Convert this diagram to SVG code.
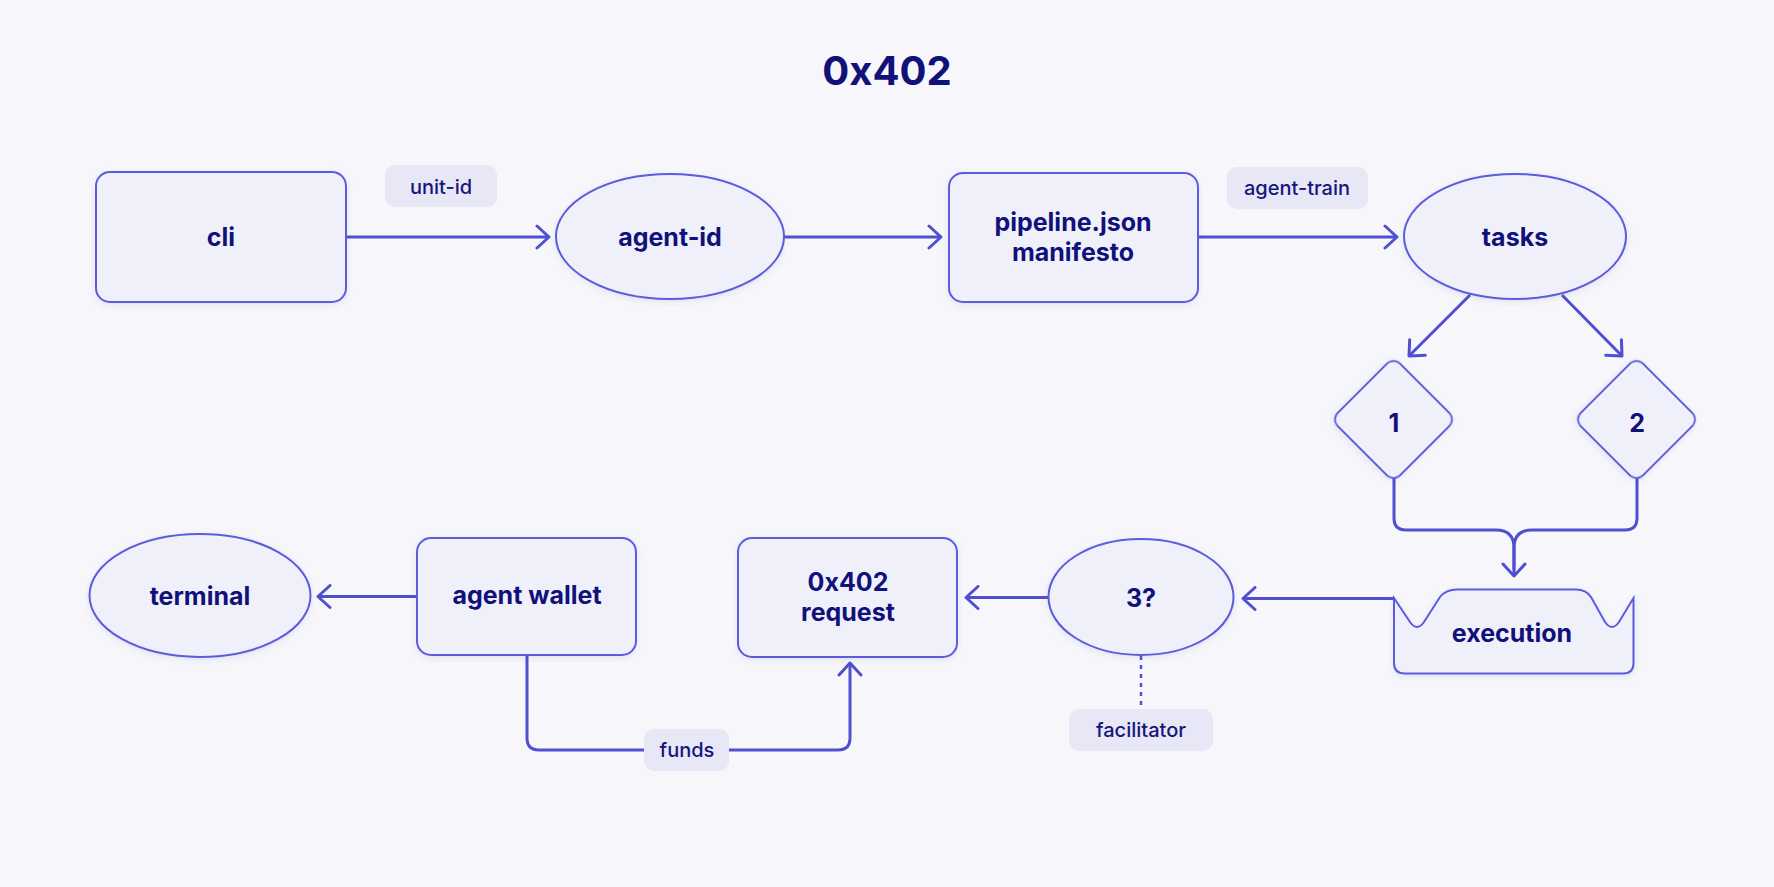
<svg xmlns="http://www.w3.org/2000/svg" width="1774" height="887" viewBox="0 0 1774 887">
  <style>
    .node { fill: #f0f0fb; stroke: #5b5bdc; stroke-width: 2; filter: url(#shadow); }
    .ntext { font-family: Inter, "Noto Sans", "Liberation Sans", sans-serif; font-weight: 700; font-size: 25px; fill: #11117a; text-anchor: middle; }
    .pill { fill: #e7e7f5; }
    .ltext { font-family: Inter, "Noto Sans", "Liberation Sans", sans-serif; font-weight: 500; font-size: 20px; fill: #16167c; text-anchor: middle; }
    .edge { fill: none; stroke: #4f4fd0; stroke-width: 3; }
    .arrow { marker-end: url(#chev); }
    .dotted { fill: none; stroke: #4f4fd0; stroke-width: 2.5; stroke-dasharray: 4 5; }
    .title { font-family: Inter, "Noto Sans", "Liberation Sans", sans-serif; font-weight: 700; font-size: 40px; fill: #11117a; text-anchor: middle; }
  </style>
  <defs>
    <filter id="shadow" x="-20%" y="-20%" width="140%" height="150%">
      <feDropShadow dx="0" dy="2" stdDeviation="3" flood-color="#5050b0" flood-opacity="0.12"/>
    </filter>
    <marker id="chev" viewBox="0 0 16 26" refX="14" refY="13" markerWidth="16" markerHeight="26" orient="auto" markerUnits="userSpaceOnUse">
      <path d="M2,2 L14,13 L2,24" fill="none" stroke="#4f4fd0" stroke-width="3" stroke-linecap="round" stroke-linejoin="round"/>
    </marker>
  </defs>

  <rect x="0" y="0" width="1774" height="887" fill="#f7f7fb"/>

  <text class="title" x="887" y="85">0x402</text>

  <g id="connectors">
    <path class="edge arrow" d="M346,237 H549"/>
    <path class="edge arrow" d="M784,237 H941"/>
    <path class="edge arrow" d="M1198,237 H1397"/>
    <path class="edge arrow" d="M1470,295 L1409,356"/>
    <path class="edge arrow" d="M1562,295 L1622,356"/>
    <path class="edge" d="M1637,478 V518 Q1637,530 1625,530 H1532 Q1514,530 1514,548 V570"/>
    <path class="edge arrow" d="M1394,478 V518 Q1394,530 1406,530 H1496 Q1514,530 1514,548 V576"/>
    <path class="edge arrow" d="M1394,598.5 H1243"/>
    <path class="edge arrow" d="M1048,597.5 H966"/>
    <path class="edge arrow" d="M417,596.5 H318"/>
    <path class="edge arrow" d="M527,655 V738 Q527,750 539,750 H838 Q850,750 850,738 V663"/>
    <path class="dotted" d="M1141,656 V708"/>
  </g>

  <g id="label-unit-id">
    <rect class="pill" x="385" y="165" width="112" height="42" rx="10"/>
    <text class="ltext" x="441" y="194">unit-id</text>
  </g>
  <g id="label-agent-train">
    <rect class="pill" x="1227" y="167" width="141" height="42" rx="10"/>
    <text class="ltext" x="1297" y="195">agent-train</text>
  </g>
  <g id="label-funds">
    <rect class="pill" x="644" y="729" width="85" height="42" rx="10"/>
    <text class="ltext" x="687" y="757">funds</text>
  </g>
  <g id="label-facilitator">
    <rect class="pill" x="1069" y="709" width="144" height="42" rx="10"/>
    <text class="ltext" x="1141" y="737">facilitator</text>
  </g>

  <g id="node-cli">
    <rect class="node" x="96" y="172" width="250" height="130" rx="14"/>
    <text class="ntext" x="221" y="246">cli</text>
  </g>
  <g id="node-agent-id">
    <ellipse class="node" cx="670" cy="236.5" rx="114" ry="62.5"/>
    <text class="ntext" x="670" y="246">agent-id</text>
  </g>
  <g id="node-pipeline">
    <rect class="node" x="949" y="173" width="249" height="129" rx="14"/>
    <text class="ntext" x="1073" y="231">pipeline.json</text>
    <text class="ntext" x="1073" y="261">manifesto</text>
  </g>
  <g id="node-tasks">
    <ellipse class="node" cx="1515" cy="236.5" rx="111" ry="62.5"/>
    <text class="ntext" x="1515" y="246">tasks</text>
  </g>
  <g id="node-1">
    <rect class="node" x="-44" y="-44" width="88" height="88" rx="9" transform="translate(1393.5,419.5) rotate(45)"/>
    <text class="ntext" x="1394" y="432">1</text>
  </g>
  <g id="node-2">
    <rect class="node" x="-44" y="-44" width="88" height="88" rx="9" transform="translate(1636.5,419.5) rotate(45)"/>
    <text class="ntext" x="1637" y="432">2</text>
  </g>
  <g id="node-execution">
    <path class="node" d="M1394,598 L1410,622 Q1417,632 1424,622 L1440,597 Q1446,589.5 1457,589.5 L1576,589.5 Q1586,589.5 1591,597 L1605,622 Q1612,632 1619,622 L1633.5,598 L1633.5,663 Q1633.5,673.5 1623,673.5 L1405,673.5 Q1394,673.5 1394,663 Z"/>
    <text class="ntext" x="1512" y="642">execution</text>
  </g>
  <g id="node-3">
    <ellipse class="node" cx="1141" cy="597" rx="92.5" ry="58"/>
    <text class="ntext" x="1141" y="607">3?</text>
  </g>
  <g id="node-request">
    <rect class="node" x="738" y="538" width="219" height="119" rx="14"/>
    <text class="ntext" x="848" y="591">0x402</text>
    <text class="ntext" x="848" y="621">request</text>
  </g>
  <g id="node-wallet">
    <rect class="node" x="417" y="538" width="219" height="117" rx="14"/>
    <text class="ntext" x="527" y="604">agent wallet</text>
  </g>
  <g id="node-terminal">
    <ellipse class="node" cx="200" cy="595.5" rx="110.5" ry="61.5"/>
    <text class="ntext" x="200" y="605">terminal</text>
  </g>
</svg>
